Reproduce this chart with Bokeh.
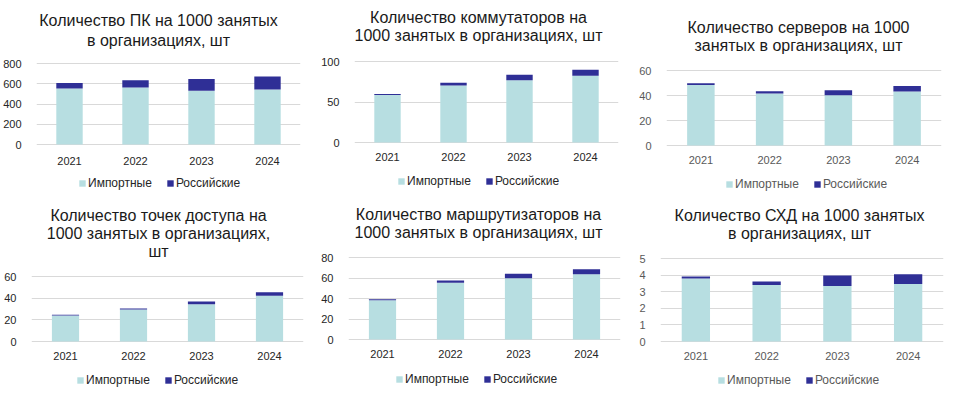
from bokeh.plotting import figure
from bokeh.layouts import column, row
from bokeh.models import FixedTicker, Range1d, Legend, Label, ColumnDataSource
from bokeh.core.properties import value
from bokeh.embed import file_html
from bokeh.resources import INLINE

years = ["2021", "2022", "2023", "2024"]
series_names = ["Импортные", "Российские"]

pc_import = [552, 562, 532, 542]
pc_russian = [56, 73, 116, 129]
pc_ticks = [0, 200, 400, 600, 800]

switch_import = [58.5, 70.5, 77.0, 82.4]
switch_russian = [1.5, 3.3, 6.6, 7.4]
switch_ticks = [0, 50, 100]

server_import = [48.5, 41.6, 40.3, 43.2]
server_russian = [1.4, 1.9, 4.0, 4.5]
server_ticks = [0, 20, 40, 60]

ap_import = [24.0, 29.5, 34.5, 42.3]
ap_russian = [0.8, 1.0, 2.5, 3.1]
ap_ticks = [0, 20, 40, 60]

router_import = [38.4, 55.3, 59.8, 63.7]
router_russian = [0.9, 2.3, 4.3, 4.9]
router_ticks = [0, 20, 40, 60, 80]

sxd_import = [3.79, 3.41, 3.35, 3.47]
sxd_russian = [0.12, 0.20, 0.62, 0.58]
sxd_ticks = [0, 1, 2, 3, 4, 5]

titles = [
    ["Количество ПК на 1000 занятых", "в организациях, шт"],
    ["Количество коммутаторов на", "1000 занятых в организациях, шт"],
    ["Количество серверов на 1000", "занятых в организациях, шт"],
    ["Количество точек доступа на", "1000 занятых в организациях,", "шт"],
    ["Количество маршрутизаторов на", "1000 занятых в организациях, шт"],
    ["Количество СХД на 1000 занятых", "в организациях, шт"],
]

IMPORT_COLOR = "#b7dee1"
RUS_COLOR = "#2f2f96"
FONT = "Liberation Sans"
W, H = 318, 198


def make_chart(title_lines, title_ys, title_cx, imp, rus, ticks, frame_left,
               border_right, top_px, zero_px, year_offset, legend_left,
               legend_cy, label_color):
    ymax = ticks[-1]
    k = ymax / (zero_px - top_px)
    p = figure(x_range=years, width=W, height=H, output_backend="svg",
               toolbar_location=None, title=None, x_axis_location=None,
               min_border_left=frame_left, min_border_right=border_right,
               min_border_top=0, min_border_bottom=0,
               background_fill_color=None, border_fill_color=None)
    p.y_range = Range1d(-(H - zero_px) * k, zero_px * k)
    src = ColumnDataSource({"years": years, "imp": imp, "rus": rus})
    r = p.vbar_stack(["imp", "rus"], x="years", width=0.4, source=src,
                     color=[IMPORT_COLOR, RUS_COLOR], line_width=0)
    p.text(x="years", y=0, text="years", source=src, y_offset=year_offset,
           text_align="center", text_baseline="middle",
           text_font=value(FONT), text_font_size="11px", text_color=label_color)
    p.outline_line_color = None
    for g in p.grid:
        if g.dimension == 0:
            g.visible = False
    p.ygrid.grid_line_color = "#d9d9d9"
    p.ygrid.grid_line_width = 1
    p.yaxis.ticker = FixedTicker(ticks=ticks)
    p.yaxis.axis_line_color = None
    p.yaxis.major_tick_line_color = None
    p.yaxis.minor_tick_line_color = None
    p.yaxis.major_label_text_font = FONT
    p.yaxis.major_label_text_font_size = "11px"
    p.yaxis.major_label_text_color = label_color
    p.yaxis.major_label_standoff = 9
    for line, ty in zip(title_lines, title_ys):
        p.add_layout(Label(x=title_cx - frame_left, y=H - ty, x_units="screen",
                           y_units="screen", text=line, text_align="center",
                           text_baseline="middle", text_font=FONT,
                           text_font_size="16px", text_color="#1a1a1a"))
    legend = Legend(items=[(series_names[0], [r[0]]), (series_names[1], [r[1]])],
                    orientation="horizontal",
                    location=(legend_left - frame_left - 5, H - legend_cy - 6),
                    label_text_font=FONT, label_text_font_size="12px",
                    label_text_color=label_color, glyph_width=8, glyph_height=8,
                    label_standoff=2, spacing=14, padding=0, margin=0,
                    label_height=12, border_line_color=None,
                    background_fill_alpha=0)
    p.add_layout(legend, "center")
    return p


dark = "#262626"
gray = "#595959"
p1 = make_chart(titles[0], [20, 40], 155, pc_import, pc_russian, pc_ticks,
                33, 18, 63, 144, 16, 80, 184, dark)
p2 = make_chart(titles[1], [17, 35], 150, switch_import, switch_russian, switch_ticks,
                26, 18, 61, 142, 14, 74, 182, dark)
p3 = make_chart(titles[2], [27, 45], 157, server_import, server_russian, server_ticks,
                25, 13, 70, 145, 14, 89, 185, gray)
p4 = make_chart(titles[3], [17, 35, 53], 158, ap_import, ap_russian, ap_ticks,
                31, 15, 78, 143, 14, 81, 183, dark)
p5 = make_chart(titles[4], [16, 34], 152, router_import, router_russian, router_ticks,
                22, 16, 59, 141, 14, 74, 182, dark)
p6 = make_chart(titles[5], [17, 35], 159, sxd_import, sxd_russian, sxd_ticks,
                20, 11, 60, 143, 14, 82, 183, gray)

layout = column(row(p1, p2, p3), row(p4, p5, p6))
open("out.html", "w").write(file_html(layout, INLINE))
